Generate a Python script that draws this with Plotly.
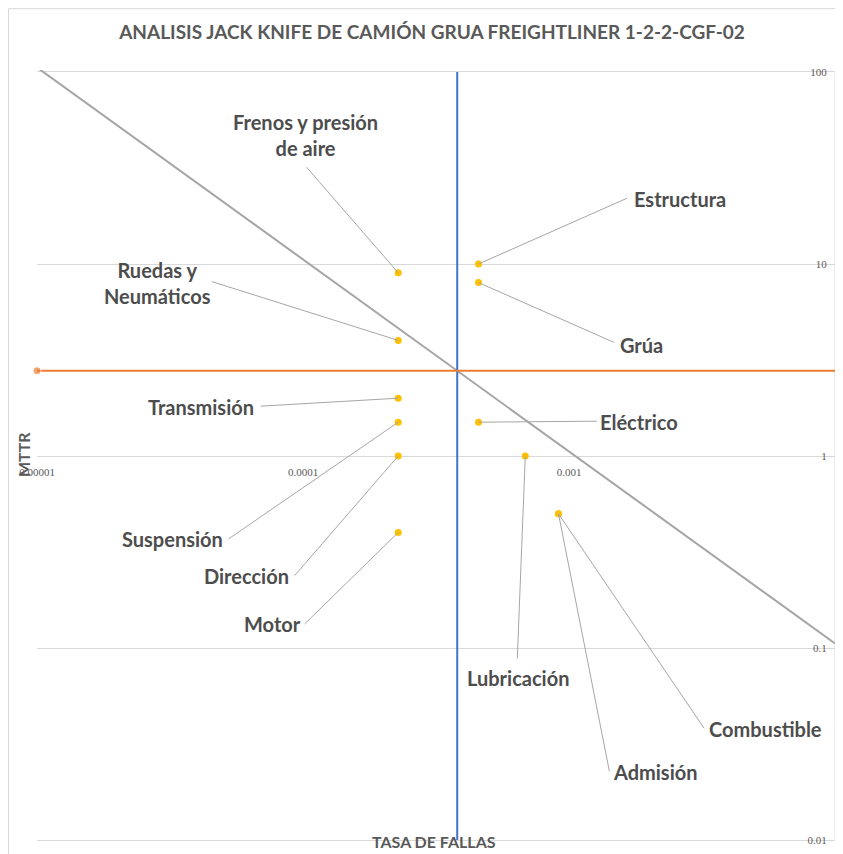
import math
import plotly.graph_objects as go

# ---------------- data ----------------
systems = ["Frenos y presión<br>de aire", "Ruedas y<br>Neumáticos", "Transmisión", "Suspensión",
           "Dirección", "Motor", "Estructura", "Grúa", "Eléctrico", "Lubricación",
           "Combustible", "Admisión"]
fail_rate = [0.000228, 0.000228, 0.000228, 0.000228, 0.000228, 0.000228,
             0.000457, 0.000457, 0.000457, 0.000685, 0.000913, 0.000913]
mttr = [9, 4, 2, 1.5, 1, 0.4, 10, 8, 1.5, 1, 0.5, 0.5]

mttr_limit_x = [0.00001, 0.01]
mttr_limit_y = [2.78, 2.78]
rate_limit_x = [0.00038, 0.00038]
rate_limit_y = [0.01, 100]
downtime_limit_x = [0.00001, 0.01]
downtime_limit_y = [105.6, 0.1056]

x_tickvals = [0.00001, 0.0001, 0.001, 0.01]
x_ticktext = ["0.00001", "0.0001", "0.001", "0.01"]
y_tickvals = [0.01, 0.1, 1, 10, 100]
y_ticktext = ["0.01", "0.1", "1", "10", "100"]

# label layout: (leader end dx, dy) and (text dx, dy) in screen pixels relative to point
leader_end = [(-92, -106), (-187, -59), (-138, 8), (-170, 117), (-104, 120), (-94, 92),
              (149, -66), (136, 60), (119, -1), (-8, 203), (146, 215), (51, 258)]
text_pos = [(-93, -138), (-241, -57), (-197, 9), (-226, 117), (-152, 120), (-126, 92),
            (201, -65), (163, 62), (160, 0), (-7, 222), (207, 215), (97, 258)]

GRID = "#D9D9D9"
LABEL = "#4D4D4D"
FONT = "Lato"

# page offset (browser body margin) and figure geometry
OFF = 8
PAD = 2  # extra pixels so the end gridlines are drawn
DEC = 192.5  # pixels per decade on y
W, H = 843 - OFF, 854 - OFF
L, R, T, B = 37 - OFF, 8, 72 - OFF - PAD, 12 - PAD
pw, ph = W - L - R, H - T - B


def px(sx):
    return (sx - OFF - L) / pw


def py(sy):
    return 1 - (sy - OFF - T) / ph


fig = go.Figure()

fig.add_trace(go.Scatter(x=downtime_limit_x, y=downtime_limit_y, mode="lines",
                         line=dict(color="#A5A5A5", width=2), hoverinfo="skip", showlegend=False))
fig.add_trace(go.Scatter(x=rate_limit_x, y=rate_limit_y, mode="lines",
                         line=dict(color="#4472C4", width=2), hoverinfo="skip", showlegend=False))
fig.add_trace(go.Scatter(x=mttr_limit_x, y=mttr_limit_y, mode="lines+markers",
                         line=dict(color="#ED7D31", width=2),
                         marker=dict(size=[8, 0], color="#ED7D31"),
                         cliponaxis=False, hoverinfo="skip", showlegend=False))
fig.add_trace(go.Scatter(x=fail_rate, y=mttr, mode="markers",
                         marker=dict(size=7, color="#FFC000"),
                         text=systems, showlegend=False, cliponaxis=False))

annotations = []
for name, xv, yv, (lx, ly), (tx, ty) in zip(systems, fail_rate, mttr, leader_end, text_pos):
    annotations.append(dict(x=math.log10(xv), y=math.log10(yv), xref="x", yref="y",
                            text="", showarrow=True, arrowhead=0, arrowwidth=1,
                            arrowcolor="#A6A6A6", ax=lx, ay=ly, borderpad=0))
    annotations.append(dict(x=math.log10(xv), y=math.log10(yv), xref="x", yref="y",
                            text=name, showarrow=False, xshift=tx, yshift=-ty,
                            xanchor="center", yanchor="middle", align="center",
                            font=dict(family=FONT, size=20, color=LABEL, weight="bold")))

annotations.append(dict(text="MTTR", x=px(23), y=py(456), xref="paper", yref="paper",
                        xanchor="center", yanchor="middle",
                        showarrow=False, textangle=-90,
                        font=dict(family=FONT, size=16, color="#595959", weight="bold")))
annotations.append(dict(text="TASA DE FALLAS", x=px(434), y=py(843), xref="paper", yref="paper",
                        xanchor="center", yanchor="middle",
                        showarrow=False,
                        font=dict(family=FONT, size=16, color="#595959", weight="bold")))

fig.update_layout(
    width=W, height=H,
    margin=dict(l=L, r=R, t=T, b=B),
    paper_bgcolor="white", plot_bgcolor="white",
    title=dict(text="ANALISIS JACK KNIFE DE CAMIÓN GRUA FREIGHTLINER 1-2-2-CGF-02",
               x=px(432), xanchor="center", y=1 - (32 - OFF) / H, yanchor="middle",
               xref="paper",
               font=dict(family=FONT, size=19, color="#595959", weight="bold")),
    annotations=annotations,
    shapes=[dict(type="rect", xref="paper", yref="paper",
                 x0=px(8.5), x1=px(870), y0=py(880), y1=py(8.5),
                 line=dict(color="#D9D9D9", width=1), layer="below")],
)

fig.update_xaxes(type="log", range=[-5, -2], tickvals=x_tickvals, ticktext=x_ticktext,
                 showgrid=False, zeroline=False, showline=False,
                 ticks="outside", ticklen=6, tickcolor="rgba(0,0,0,0)",
                 anchor="free", position=py(457),
                 tickfont=dict(family="Liberation Serif", size=11, color="#595959"))
fig.update_yaxes(type="log", range=[-2 - PAD / DEC, 2 + PAD / DEC],
                 tickvals=y_tickvals, ticktext=y_ticktext,
                 showgrid=True, gridcolor=GRID, gridwidth=1, zeroline=False,
                 showline=False,
                 anchor="free", position=1, side="left",
                 ticks="outside", ticklen=6, tickcolor="rgba(0,0,0,0)",
                 tickfont=dict(family="Liberation Serif", size=11, color="#595959"))

# right-hand vertical axis line spanning 100 .. 0.01
fig.add_shape(type="line", xref="paper", yref="paper", x0=1, x1=1, y0=py(842), y1=py(72),
              line=dict(color=GRID, width=1), layer="below")

fig.write_html("out.html")
